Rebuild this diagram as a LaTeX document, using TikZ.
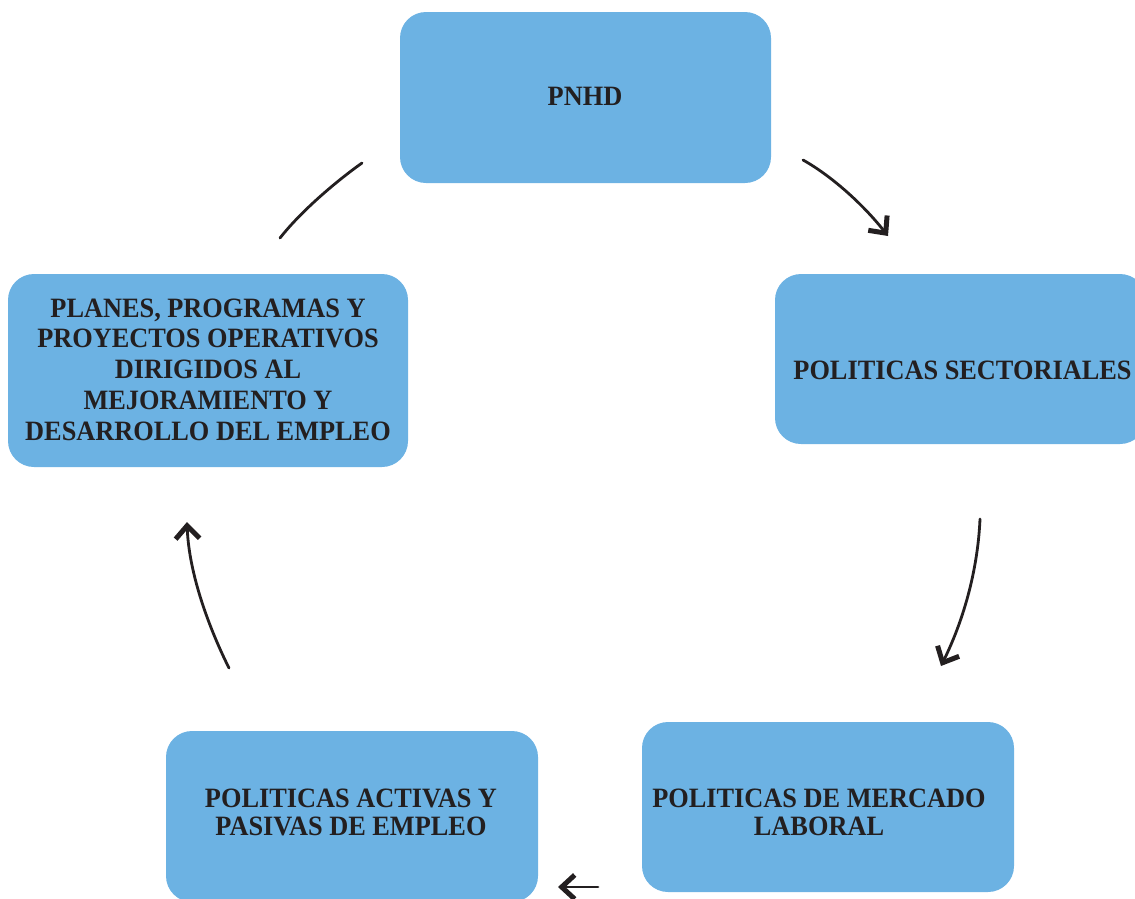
\documentclass[tikz,border=0pt]{standalone}
\usepackage{fontspec}
\setmainfont{Liberation Serif}[FakeStretch=0.94]
\usetikzlibrary{arrows.meta}
\definecolor{boxblue}{RGB}{108,178,227}
\definecolor{ink}{RGB}{35,31,32}
\begin{document}
\begin{tikzpicture}[x=1pt,y=-1pt,
  box/.style={fill=boxblue,rounded corners=26pt,inner sep=0pt},
  txt/.style={text=ink,align=center,inner sep=0pt,anchor=base},
  big/.style={font=\bfseries\fontsize{28}{30.8}\selectfont},
  two/.style={font=\bfseries\fontsize{28}{27.8}\selectfont},
  conn/.style={draw=ink,line width=2.8pt,line cap=round},
  head/.style={-{Straight Barb[length=13pt,width=24pt,line width=5pt]}}
]
\useasboundingbox (0,0) rectangle (1135,898);
\clip (0,0) rectangle (1135,898);
\node[box,minimum width=371pt,minimum height=171pt] (pnhd) at (585.5,97.5) {};
\node[box,minimum width=371pt,minimum height=170pt] (sect) at (960.5,359) {};
\node[box,minimum width=372pt,minimum height=170pt] (merc) at (828,807) {};
\node[box,minimum width=372pt,minimum height=171pt] (activ) at (352,816.5) {};
\node[box,minimum width=400pt,minimum height=193pt] (planes) at (208,370.5) {};
\node[txt,big] (pnhdT) at (585,105) {PNHD};
\node[txt,big] (sectT) at (962.5,379) {POLITICAS SECTORIALES};
\node[txt,big] (planesT) at (208,440.2) {PLANES, PROGRAMAS Y\\PROYECTOS OPERATIVOS\\DIRIGIDOS AL\\MEJORAMIENTO Y\\DESARROLLO DEL EMPLEO};
\node[txt,two] (mercT) at (819,835) {POLITICAS DE MERCADO\\LABORAL};
\node[txt,two] (activT) at (351,835.5) {POLITICAS ACTIVAS Y\\PASIVAS DE EMPLEO};
\coordinate (a1s) at (362,163);
\coordinate (a1e) at (280,238);
\coordinate (a2s) at (803,160);
\coordinate (a2e) at (888,236);
\coordinate (a3s) at (980,519);
\coordinate (a3e) at (941,666);
\coordinate (a4s) at (229,668);
\coordinate (a4e) at (187,522);
\coordinate (a5s) at (598,887);
\coordinate (a5e) at (558,887);
\draw[conn] (a1s) .. controls (338,180) and (302,210) .. (a1e);
\draw[conn,head] (a2s) .. controls (830,175) and (862,203) .. (a2e);
\draw[conn,head] (a3s) .. controls (978,565) and (966,615) .. (a3e);
\draw[conn,head] (a4s) .. controls (210,630) and (189,575) .. (a4e);
\draw[conn,head] (a5s) -- (a5e);
\end{tikzpicture}
\end{document}
